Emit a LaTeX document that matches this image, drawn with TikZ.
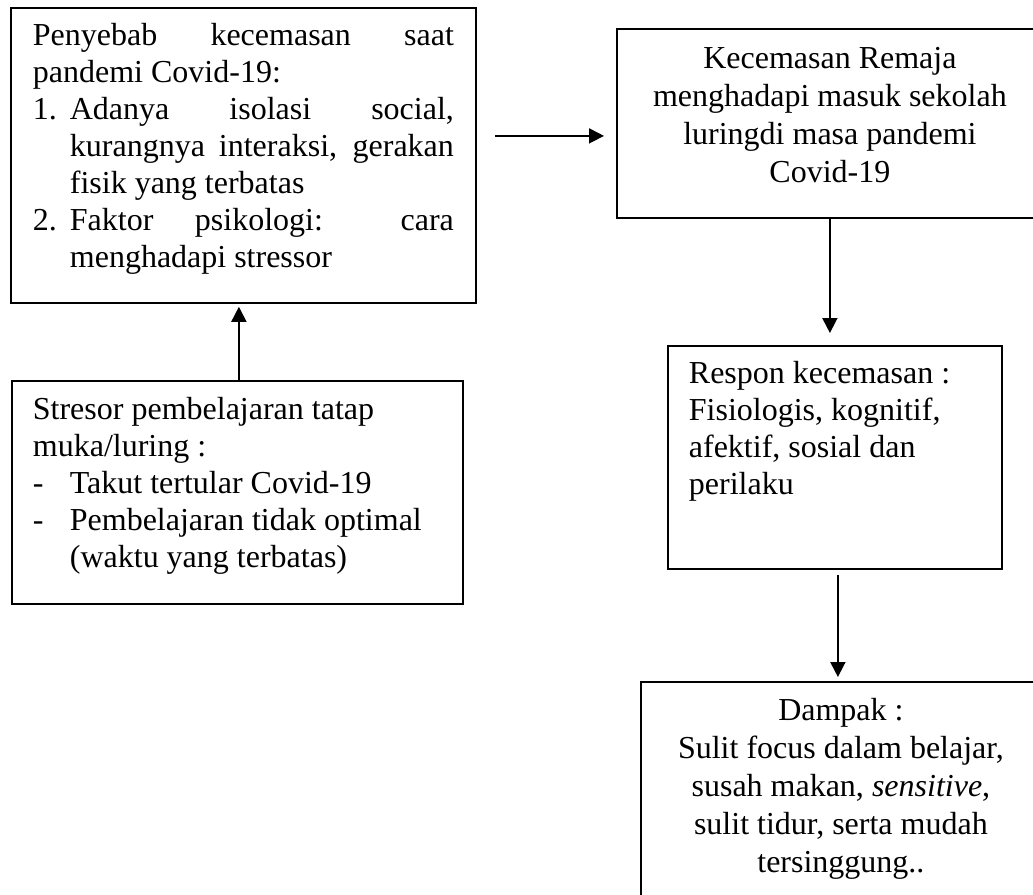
\documentclass[tikz,border=0pt]{standalone}
\usepackage{fontspec}
\setmainfont{Liberation Serif}
\usetikzlibrary{arrows.meta,calc}
\begin{document}
\begin{tikzpicture}[x=1pt,y=-1pt,
  boxnode/.style={draw=black, line width=1.8pt, inner ysep=0pt, anchor=north west, font=\fontsize{32}{37}\selectfont},
  arr/.style={line width=1.8pt, -{Triangle[width=15pt,length=15pt]}}]
\useasboundingbox (0,0) rectangle (1033,894);
\node[boxnode, inner xsep=22pt] (b1) at (10,7) {\parbox[c][295pt][t]{421pt}{%
\rule{0pt}{38pt}\makebox[421pt][s]{Penyebab kecemasan saat}\\
pandemi Covid-19:\\
\makebox[37pt][l]{1.}\makebox[384pt][s]{Adanya isolasi social,}\\
\hspace*{37pt}\makebox[384pt][s]{kurangnya interaksi, gerakan}\\
\hspace*{37pt}fisik yang terbatas\\
\makebox[37pt][l]{2.}\makebox[384pt][s]{Faktor psikologi: cara}\\
\hspace*{37pt}menghadapi stressor}};
\node[boxnode, inner xsep=0pt, font=\fontsize{32}{38}\selectfont] (b2) at (616,28) {\parbox[c][189pt][t]{426pt}{\centering
\rule{0pt}{40pt}Kecemasan Remaja\\
menghadapi masuk sekolah\\
luringdi masa pandemi\\
Covid-19}};
\node[boxnode, inner xsep=21pt] (b3) at (11,380) {\parbox[c][223pt][t]{409pt}{%
\rule{0pt}{39pt}Stresor pembelajaran tatap\\
muka/luring :\\
\makebox[37pt][l]{-}Takut tertular Covid-19\\
\makebox[37pt][l]{-}Pembelajaran tidak optimal\\
\hspace*{37pt}(waktu yang terbatas)}};
\node[boxnode, inner xsep=21pt] (b4) at (667,345) {\parbox[c][223pt][t]{292pt}{%
\rule{0pt}{38pt}Respon kecemasan :\\
Fisiologis, kognitif,\\
afektif, sosial dan\\
perilaku}};
\node[boxnode, inner xsep=0pt, font=\fontsize{32}{38}\selectfont] (b5) at (640,681) {\parbox[c][260pt][t]{400pt}{\centering
\rule{0pt}{39pt}Dampak :\\
Sulit focus dalam belajar,\\
susah makan, \textit{sensitive},\\
sulit tidur, serta mudah\\
tersinggung..}};
\coordinate (h1) at ($(b1.east)+(18,-19.5)$);
\coordinate (h2) at ($(b2.west |- h1)+(-12,0)$);
\draw[arr] (h1) -- (h2);
\draw[arr] (b2.south) -- ([yshift=12pt]b4.north -| b2.south);
\draw[arr] ([xshift=3pt,yshift=-5pt]b4.south) -- ([xshift=-3pt,yshift=4pt]b5.north);
\draw[arr] ([xshift=1.5pt]b3.north) -- ([xshift=-4.5pt,yshift=-3pt]b1.south);
\end{tikzpicture}
\end{document}
